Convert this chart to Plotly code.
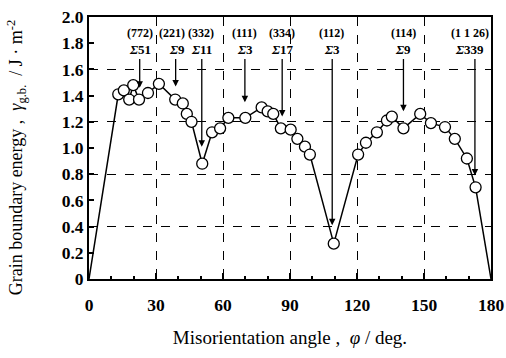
import plotly.graph_objects as go

# Measured grain boundary energies
angle = [13.1, 15.6, 18.0, 19.8, 22.4, 26.4, 31.3, 38.6, 42.0, 43.8, 45.9, 50.7, 55.1, 58.7,
         62.4, 70.0, 77.3, 80.0, 82.5, 85.9, 90.3, 93.3, 96.7, 98.9, 109.6, 120.5, 124.0,
         128.9, 133.4, 135.6, 140.8, 148.3, 153.1, 159.4, 163.8, 169.2, 173.1]
energy = [1.41, 1.44, 1.37, 1.48, 1.37, 1.42, 1.49, 1.37, 1.34, 1.26, 1.20, 0.88, 1.12, 1.15,
          1.23, 1.23, 1.31, 1.28, 1.26, 1.15, 1.14, 1.07, 1.01, 0.95, 0.27, 0.95, 1.04,
          1.12, 1.21, 1.24, 1.15, 1.26, 1.19, 1.16, 1.07, 0.92, 0.70]

# Line end points (0 deg and 180 deg)
end_angle = [0, 180]
end_energy = [0, 0]

# Special boundaries (arrows)
csl_angle = [22.7, 38.8, 50.5, 69.8, 86.5, 108.9, 140.8, 172.8]
csl_tip = [1.46, 1.47, 1.01, 1.35, 1.24, 0.41, 1.28, 0.79]
csl_plane = ["(772)", "(221)", "(332)", "(111)", "(334)", "(112)", "(114)", "(1 1 26)"]
csl_sigma = ["51", "9", "11", "3", "17", "3", "9", "339"]
plane_x = [22.7, 37.3, 50.2, 69.8, 86.5, 108.7, 140.8, 170.5]
sigma_x = [22.7, 39.2, 50.2, 69.8, 86.5, 108.7, 140.8, 170.5]

yticks = [0, 0.2, 0.4, 0.6, 0.8, 1.0, 1.2, 1.4, 1.6, 1.8, 2.0]
yticktext = ["0", "0.2", "0.4", "0.6", "0.8", "1.0", "1.2", "1.4", "1.6", "1.8", "2.0"]

serif = "Liberation Serif"

line_x = [end_angle[0]] + angle + [end_angle[1]]
line_y = [end_energy[0]] + energy + [end_energy[1]]

fig = go.Figure()
fig.add_trace(go.Scatter(x=line_x, y=line_y, mode="lines",
                         line=dict(color="black", width=1.5), showlegend=False))
fig.add_trace(go.Scatter(x=angle, y=energy, mode="markers",
                         marker=dict(symbol="circle", size=11, color="white",
                                     line=dict(color="black", width=1.3)),
                         showlegend=False))
# grid overlay axis
fig.add_trace(go.Scatter(x=[0], y=[0], yaxis="y2", mode="markers",
                         marker=dict(opacity=0), showlegend=False, hoverinfo="skip"))

for i in range(len(csl_angle)):
    fig.add_annotation(x=csl_angle[i], y=csl_tip[i], ax=csl_angle[i], ay=1.69,
                       xref="x", yref="y", axref="x", ayref="y", text="",
                       showarrow=True, arrowhead=2, arrowsize=1, arrowwidth=1.3,
                       arrowcolor="black")
    fig.add_annotation(x=plane_x[i], y=1.88, xref="x", yref="y", text="<b>" + csl_plane[i] + "</b>",
                       showarrow=False, font=dict(family=serif, size=12, color="black"))
    fig.add_annotation(x=sigma_x[i], y=1.75, xref="x", yref="y",
                       text="<b><i>Σ</i>" + csl_sigma[i] + "</b>",
                       showarrow=False, font=dict(family=serif, size=13, color="black"))

# y-axis title as annotation for exact placement
fig.add_annotation(x=-0.18, y=0.463, xref="paper", yref="paper", textangle=-90,
                   text="Grain boundary energy ,  <i>γ</i><sub>g.b.</sub>  / J · m<sup>-2</sup>",
                   showarrow=False, xanchor="center", yanchor="middle",
                   font=dict(family=serif, size=18, color="black"))

fig.update_layout(
    width=506, height=358,
    margin=dict(l=89, r=15, t=17, b=79),
    paper_bgcolor="white", plot_bgcolor="white",
    font=dict(family=serif, color="black"),
    xaxis=dict(range=[0, 180], tickvals=[0, 30, 60, 90, 120, 150, 180],
               ticks="inside", ticklen=6, tickwidth=1.5, tickcolor="black",
               minor=dict(dtick=10, ticks="inside", ticklen=3, tickcolor="black", showgrid=False),
               showline=True, linecolor="black", linewidth=2, mirror=True,
               showgrid=True, gridcolor="black", griddash="dash", gridwidth=1,
               zeroline=False, automargin=False, ticklabelstandoff=9,
               ticklabeloverflow="allow",
               tickfont=dict(family=serif, size=17.5, weight="bold"),
               title=dict(text="Misorientation angle ,  <i>φ</i> / deg.",
                          font=dict(family=serif, size=19), standoff=17)),
    yaxis=dict(range=[0, 2.0], tickvals=yticks, ticktext=yticktext,
               ticks="inside", ticklen=5, tickwidth=1.5, tickcolor="black",
               showline=True, linecolor="black", linewidth=2, mirror=True,
               showgrid=False, zeroline=False, automargin=False,
               ticklabeloverflow="allow",
               tickfont=dict(family=serif, size=17.5, weight="bold")),
    yaxis2=dict(range=[0, 2.0], overlaying="y", dtick=0.4, showticklabels=False,
                showgrid=True, gridcolor="black", griddash="dash", gridwidth=1,
                zeroline=False, showline=False, ticks="", automargin=False),
)

fig.write_html("out.html",
               config={"displayModeBar": False},
               post_script="document.body.style.margin='0';"
                           "document.body.style.overflow='hidden';"
                           "document.documentElement.style.overflow='hidden';")
